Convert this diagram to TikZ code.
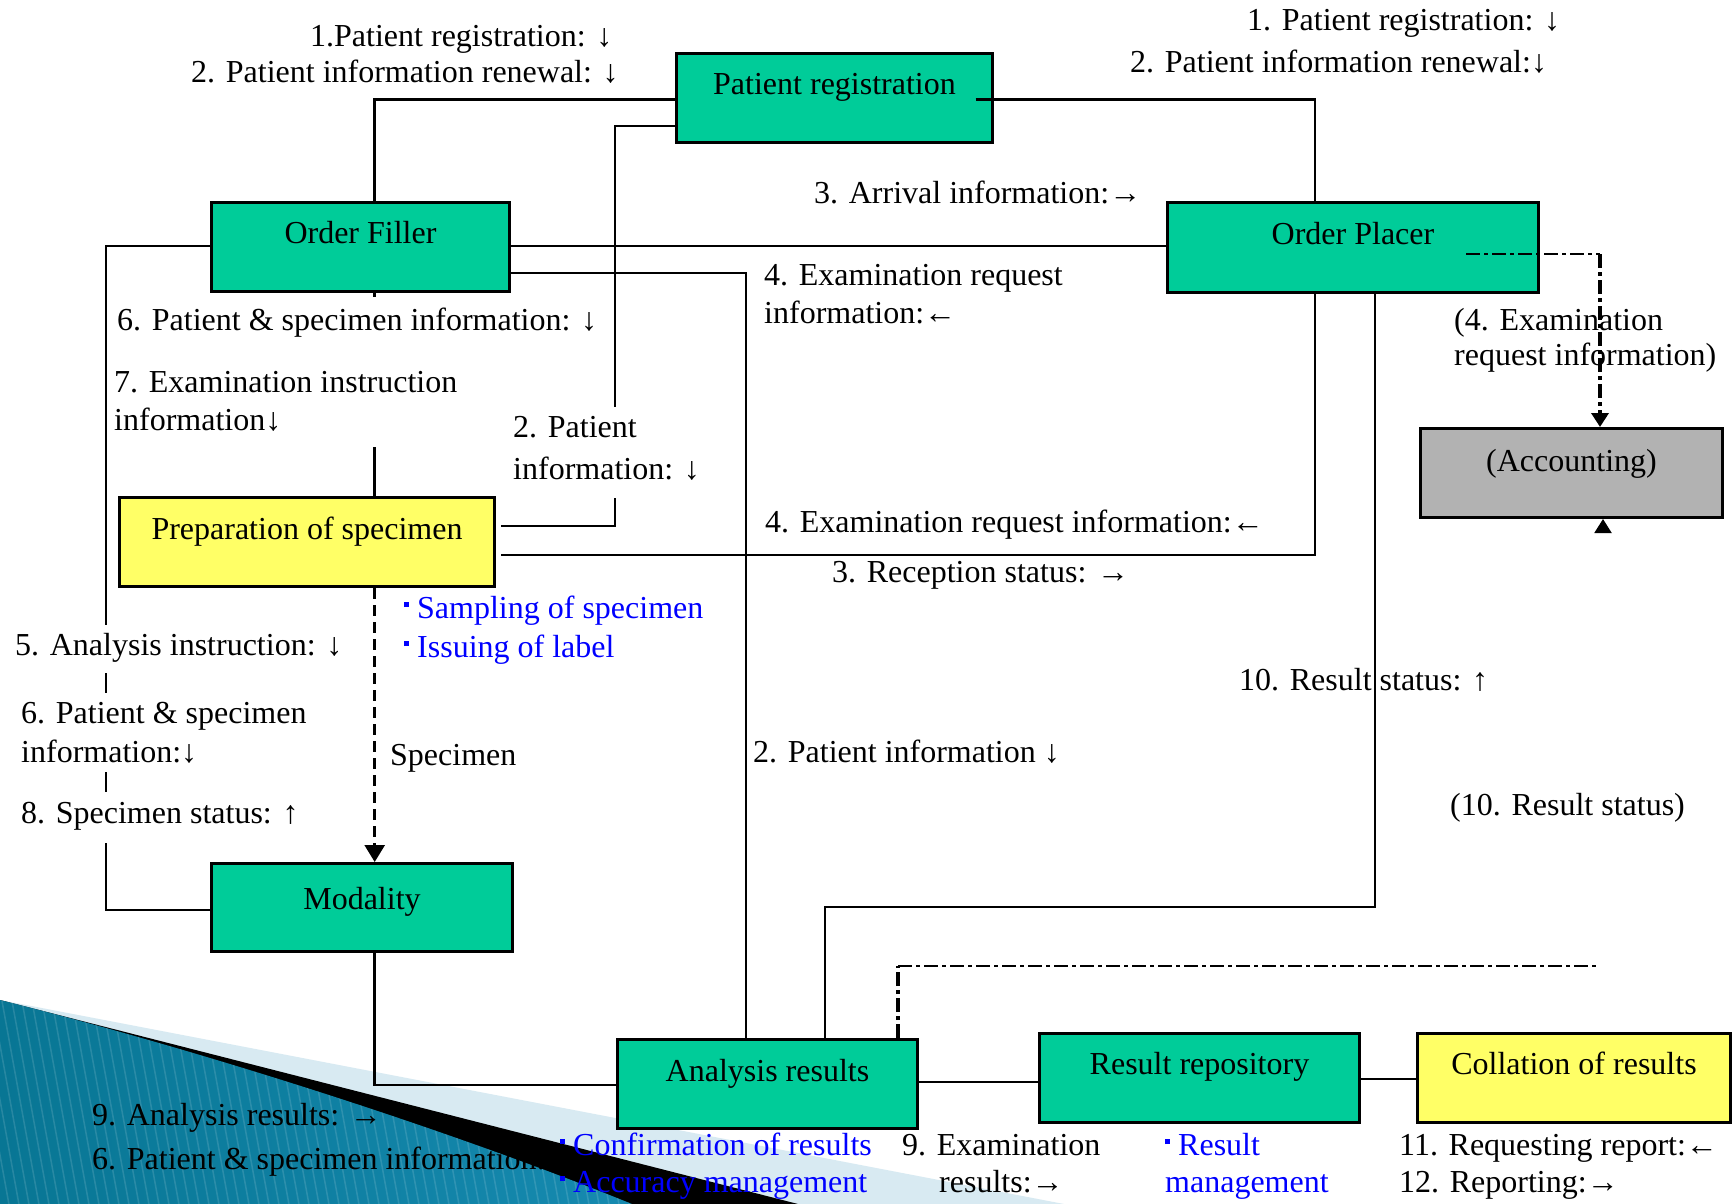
\documentclass[tikz,border=0pt]{standalone}
\usepackage{fontspec}
\setmainfont{Liberation Serif}
\usetikzlibrary{arrows.meta}
\definecolor{boxgreen}{RGB}{0,204,153}
\definecolor{boxyellow}{RGB}{255,255,102}
\definecolor{boxgray}{RGB}{178,178,178}
\definecolor{txtblue}{RGB}{0,0,255}
\definecolor{decolight}{RGB}{216,234,242}
\definecolor{tealA}{RGB}{8,118,148}
\definecolor{tealB}{RGB}{88,186,218}
\definecolor{tealC}{RGB}{22,138,176}
\newcommand\labfont{\fontsize{32}{38}\selectfont}
\newcommand\sqbul{\raisebox{11pt}{\rule{5pt}{5pt}}\kern8pt}
\begin{document}
\begin{tikzpicture}[x=1pt,y=-1pt,
  box/.style={draw=black, line width=3pt, inner xsep=0pt, inner ysep=0pt,
    text height=41pt, text depth=48pt, font=\labfont, anchor=north west},
  lab/.style={anchor=base west, inner sep=0pt, font=\labfont},
  blab/.style={lab, text=txtblue},
  conn/.style={line width=2.7pt},
  dashconn/.style={line width=2.7pt, dash pattern=on 11pt off 6pt},
  ddconn/.style={line width=2.5pt, dash pattern=on 14pt off 4pt on 4pt off 4pt},
  ddthick/.style={line width=4pt, dash pattern=on 14pt off 4pt on 4pt off 4pt},
  tipA/.style={-{Triangle[width=20pt,length=17pt]}},
  tipB/.style={-{Triangle[width=17pt,length=14pt]}}]

\useasboundingbox (0,0) rectangle (1733,1204);
\fill[white] (0,0) rectangle (1733,1204);

% ---- decoration (bottom left) ----
\fill[decolight] (0,1000) -- (1064,1204) -- (0,1204) -- cycle;
\fill[black] (0,1000) -- (798,1204) -- (0,1204) -- cycle;
\begin{scope}
  \clip (0,1000) .. controls (200,1050) and (450,1130) .. (632,1204) -- (0,1204) -- cycle;
  \shade[left color=tealA, middle color=tealB, right color=tealC] (0,990) rectangle (640,1204);
  \foreach \i in {-200,-190,...,700} \draw[white, opacity=0.13, line width=1.5pt] (\i,990) -- (\i+40,1210);
\end{scope}

% ---- boxes ----
\node[box, fill=boxgreen, minimum width=316pt] (PR) at (675,52) {Patient registration};
\node[box, fill=boxgreen, minimum width=298pt] (OF) at (210,201) {Order Filler};
\node[box, fill=boxgreen, minimum width=371pt, text height=42pt] (OP) at (1166,201) {Order Placer};
\node[box, fill=boxgray, minimum width=302pt, text height=43pt, text depth=46pt] (Acc) at (1419,427) {(Accounting)};
\node[box, fill=boxyellow, minimum width=375pt, text height=42pt, text depth=47pt] (Prep) at (118,496) {Preparation of specimen};
\node[box, fill=boxgreen, minimum width=301pt, text height=46pt, text depth=42pt] (Mod) at (210,862) {Modality};
\node[box, fill=boxgreen, minimum width=300pt, text height=42pt, text depth=47pt] (AR) at (616,1038) {Analysis results};
\node[box, fill=boxgreen, minimum width=320pt] (RR) at (1038,1032) {Result repository};
\node[box, fill=boxyellow, minimum width=313pt] (CR) at (1416,1032) {Collation of results};

% ---- labels ----
\node[lab] (t1a) at (310,47) {1.Patient registration: ↓};
\node[lab] (t1b) at (191,83) {2. Patient information renewal: ↓};
\node[lab] (t2a) at (1247,31) {1. Patient registration: ↓};
\node[lab] (t2b) at (1130,73) {2. Patient information renewal:↓};
\node[lab] (t3) at (814,204) {3. Arrival information:→};
\node[lab] (t4a) at (764,285) {4. Examination request};
\node[lab] (t4b) at (764,323) {information:←};
\node[lab] (t5a) at (1454,330) {(4. Examination};
\node[lab] (t5b) at (1454,365) {request information)};
\node[lab] (t6) at (117,330) {6. Patient \& specimen information: ↓};
\node[lab] (t7a) at (114,392) {7. Examination instruction};
\node[lab] (t7b) at (114,430) {information↓};
\node[lab] (t8a) at (513,437) {2. Patient};
\node[lab] (t8b) at (513,479) {information: ↓};
\node[lab] (t9) at (765,532) {4. Examination request information:←};
\node[lab] (t10) at (832,582) {3. Reception status: →};
\node[blab] (t11a) at (404,618) {\sqbul Sampling of specimen};
\node[blab] (t11b) at (404,657) {\sqbul Issuing of label};
\node[lab] (t12) at (15,655) {5. Analysis instruction: ↓};
\node[lab] (t13a) at (21,723) {6. Patient \& specimen};
\node[lab] (t13b) at (21,762) {information:↓};
\node[lab] (t14) at (390,765) {Specimen};
\node[lab] (t15) at (21,823) {8. Specimen status: ↑};
\node[lab] (t16) at (1239,690) {10. Result status: ↑};
\node[lab] (t17) at (753,762) {2. Patient information ↓};
\node[lab] (t18) at (1450,815) {(10. Result status)};
\node[lab] (t19) at (92,1125) {9. Analysis results: →};
\node[lab] (t20) at (92,1169) {6. Patient \& specimen information: ↓};
\node[blab] (t21a) at (560,1155) {\sqbul Confirmation of results};
\node[blab] (t21b) at (560,1192) {\sqbul Accuracy management};
\node[lab] (t22a) at (902,1155) {9. Examination};
\node[lab] (t22b) at (939,1192) {results:→};
\node[blab] (t23a) at (1165,1155) {\sqbul Result};
\node[blab] (t23b) at (1165,1192) {management};
\node[lab] (t24a) at (1399,1155) {11. Requesting report:←};
\node[lab] (t24b) at (1399,1192) {12. Reporting:→};

% ---- coordinates for bends ----
\coordinate (a1) at (374.7,99.5);
\coordinate (a2) at (615,126);
\coordinate (a2e) at (615,407);
\coordinate (a2b) at (615,498);
\coordinate (a2c) at (615,526);
\coordinate (a3) at (1315,99.5);
\coordinate (a4) at (800,246);
\coordinate (a5) at (746,273);
\coordinate (a6) at (106,246);
\coordinate (a6s1) at (106,625);
\coordinate (a6s2) at (106,673);
\coordinate (a6s3) at (106,693);
\coordinate (a6s4) at (106,772);
\coordinate (a6s5) at (106,792);
\coordinate (a6s6) at (106,843);
\coordinate (a6b) at (106,910);
\coordinate (a7) at (374.7,297);
\coordinate (a7b) at (374.7,447);
\coordinate (a8) at (374.7,600);
\coordinate (a9) at (1315,555);
\coordinate (a10) at (1375,907);
\coordinate (a10b) at (825,907);
\coordinate (a11) at (374.7,1085);
\coordinate (a12) at (980,1082);
\coordinate (a13) at (1390,1079);
\coordinate (a14) at (1600,254);
\coordinate (a15) at (898,966);
\coordinate (a15b) at (1599,966);
\coordinate (a16) at (1603,532);

% ---- connectors ----
\draw[conn] (a1 -| PR.west) -- (a1) -- (a1 |- OF.north);
\draw[conn] (a2 -| PR.west) -- (a2) -- (a2e);
\draw[conn] (a2b) -- (a2c) -- ([xshift=5pt]a2c -| Prep.east);
\draw[conn] ([xshift=-18.5pt]a3 -| PR.east) -- (a3) -- (a3 |- OP.north);
\draw[conn] (a4 -| OF.east) -- (a4 -| OP.west);
\draw[conn] (a5 -| OF.east) -- (a5) -- (a5 |- AR.north);
\draw[conn] (a6 -| OF.west) -- (a6) -- (a6s1);
\draw[conn] (a6s2) -- (a6s3);
\draw[conn] (a6s4) -- (a6s5);
\draw[conn] (a6s6) -- (a6b) -- (a6b -| Mod.west);
\draw[conn] (a7 |- OF.south) -- (a7);
\draw[conn] (a7b) -- (a7b |- Prep.north);
\draw[dashconn, tipA] (a8 |- Prep.south) -- (a8 |- Mod.north);
\draw[conn] ([xshift=5pt]a9 -| Prep.east) -- (a9) -- (a9 |- OP.south);
\draw[conn] (a10 |- OP.south) -- (a10) -- (a10b) -- (a10b |- AR.north);
\draw[conn] (a11 |- Mod.south) -- (a11) -- (a11 -| AR.west);
\draw[conn] (a12 -| AR.east) -- (a12 -| RR.west);
\draw[conn] (a13 -| RR.east) -- (a13 -| CR.west);
\draw[ddconn] ([xshift=-74pt]a14 -| OP.east) -- (a14);
\draw[ddthick, tipB] (a14) -- (a14 |- Acc.north);
\draw[ddthick] (a15 |- AR.north) -- (a15);
\draw[ddconn] (a15) -- (a15b);
\draw[line width=2pt, tipB] (a16) -- (a16 |- Acc.south);
\end{tikzpicture}
\end{document}
